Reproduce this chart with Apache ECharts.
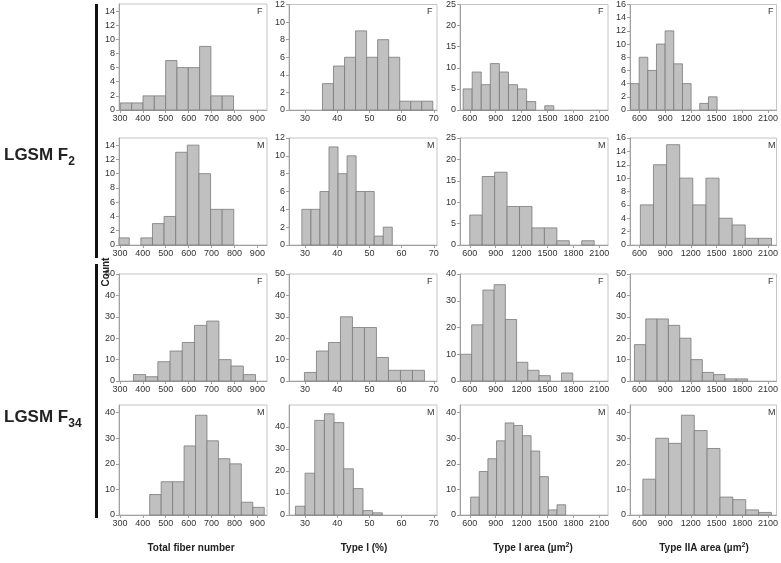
<!DOCTYPE html>
<html><head><meta charset="utf-8">
<script src="https://cdn.jsdelivr.net/npm/echarts@6/dist/echarts.min.js"></script>
<style>html,body{margin:0;padding:0;background:#fff}#c{width:781px;height:563px}</style>
</head><body><div id="c"></div>
<script>
// ---- tick labels ----
const ticksFiber = [300,400,500,600,700,800,900];
const ticksType = [30,40,50,60,70];
const ticksArea = [600,900,1200,1500,1800,2100];
const xTitles = ['Total fiber number','Type I (%)','Type I area (\u00b5m2)','Type IIA area (\u00b5m2)'];
const rowSex = ['F','M','F','M'];

// ---- histogram data: bin start, bin width, counts ----
// LGSM F2, females
const f2F_fiberStart = 302,  f2F_fiberWidth = 49.4, f2F_fiberCounts = [1,1,2,2,7,6,6,9,2,2];
const f2F_typeStart = 35.4,  f2F_typeWidth = 3.43,  f2F_typeCounts = [3,5,6,9,6,8,6,1,1,1];
const f2F_areaStart = 523,   f2F_areaWidth = 105,   f2F_areaCounts = [5,9,6,11,9,6,5,2,0,1];
const f2F_iiaStart = 496,    f2F_iiaWidth = 101,    f2F_iiaCounts = [4,8,6,10,12,7,4,0,1,2];
// LGSM F2, males
const f2M_fiberStart = 290,  f2M_fiberWidth = 50.7, f2M_fiberCounts = [1,0,1,3,4,13,14,10,5,5];
const f2M_typeStart = 29.0,  f2M_typeWidth = 2.81,  f2M_typeCounts = [4,4,6,11,8,10,6,6,1,2];
const f2M_areaStart = 600,   f2M_areaWidth = 144,   f2M_areaCounts = [7,16,17,9,9,4,4,1,0,1];
const f2M_iiaStart = 611,    f2M_iiaWidth = 153,    f2M_iiaCounts = [6,12,15,10,6,10,4,3,1,1];
// LGSM F34, females
const f34F_fiberStart = 359, f34F_fiberWidth = 53.3, f34F_fiberCounts = [3,2,9,14,18,26,28,10,7,3];
const f34F_typeStart = 29.8, f34F_typeWidth = 3.73,  f34F_typeCounts = [4,14,18,30,25,25,11,5,5,5];
const f34F_areaStart = 492,  f34F_areaWidth = 130,   f34F_areaCounts = [10,21,34,36,23,7,4,2,0,3];
const f34F_iiaStart = 542,   f34F_iiaWidth = 132,   f34F_iiaCounts = [17,29,29,26,20,10,4,3,1,1];
// LGSM F34, males
const f34M_fiberStart = 430, f34M_fiberWidth = 50,   f34M_fiberCounts = [8,13,13,27,39,29,22,20,5,3];
const f34M_typeStart = 27.0, f34M_typeWidth = 3.0,   f34M_typeCounts = [4,19,43,46,42,21,12,2,1];
const f34M_areaStart = 610,  f34M_areaWidth = 100,   f34M_areaCounts = [7,17,22,29,36,35,31,25,15,2,4];
const f34M_iiaStart = 640,   f34M_iiaWidth = 150,   f34M_iiaCounts = [14,30,28,39,33,26,7,6,2,1];

// y-axis maxima and ticks per row/col
const yMax = [[15,12,25,16],[15,12,25,16],[50,50,40,50],[43,50,43,43]];
const yTicks = [
  [[0,2,4,6,8,10,12,14],[0,2,4,6,8,10,12],[0,5,10,15,20,25],[0,2,4,6,8,10,12,14,16]],
  [[0,2,4,6,8,10,12,14],[0,2,4,6,8,10,12],[0,5,10,15,20,25],[0,2,4,6,8,10,12,14,16]],
  [[0,10,20,30,40,50],[0,10,20,30,40,50],[0,10,20,30,40],[0,10,20,30,40,50]],
  [[0,10,20,30,40],[0,10,20,30,40],[0,10,20,30,40],[0,10,20,30,40]]
];
const xRange = [[296,942],[25,71],[487,2200],[490,2200]];
const xTicks = [ticksFiber, ticksType, ticksArea, ticksArea];

const panels = [
  [[f2F_fiberStart,f2F_fiberWidth,f2F_fiberCounts],[f2F_typeStart,f2F_typeWidth,f2F_typeCounts],[f2F_areaStart,f2F_areaWidth,f2F_areaCounts],[f2F_iiaStart,f2F_iiaWidth,f2F_iiaCounts]],
  [[f2M_fiberStart,f2M_fiberWidth,f2M_fiberCounts],[f2M_typeStart,f2M_typeWidth,f2M_typeCounts],[f2M_areaStart,f2M_areaWidth,f2M_areaCounts],[f2M_iiaStart,f2M_iiaWidth,f2M_iiaCounts]],
  [[f34F_fiberStart,f34F_fiberWidth,f34F_fiberCounts],[f34F_typeStart,f34F_typeWidth,f34F_typeCounts],[f34F_areaStart,f34F_areaWidth,f34F_areaCounts],[f34F_iiaStart,f34F_iiaWidth,f34F_iiaCounts]],
  [[f34M_fiberStart,f34M_fiberWidth,f34M_fiberCounts],[f34M_typeStart,f34M_typeWidth,f34M_typeCounts],[f34M_areaStart,f34M_areaWidth,f34M_areaCounts],[f34M_iiaStart,f34M_iiaWidth,f34M_iiaCounts]]
];

// ---- layout ----
const colLeft = [119, 289, 460, 630];
const colWidth = 148;
const rowTop = [4, 138, 274, 405];
const rowHeight = [106, 107, 107, 110];
const FONT = 'Liberation Sans, Arial, sans-serif';

const chart = echarts.init(document.getElementById('c'), null, {renderer: 'canvas'});

function renderItem(params, api) {
  const s = api.value(0), e = api.value(1), c = api.value(2);
  const p0 = api.coord([s, c]);
  const p1 = api.coord([e, 0]);
  const shape = echarts.graphic.clipRectByRect(
    {x: p0[0], y: p0[1], width: p1[0] - p0[0], height: p1[1] - p0[1]},
    {x: params.coordSys.x, y: params.coordSys.y, width: params.coordSys.width, height: params.coordSys.height}
  );
  if (!shape) return;
  return {type: 'rect', shape: shape, style: {fill: '#c0c0c0', stroke: '#7a7a7a', lineWidth: 0.8}};
}
const plain = v => String(v);

const grid = [], xAxis = [], yAxis = [], series = [], graphic = [];
for (let r = 0; r < 4; r++) {
  for (let c = 0; c < 4; c++) {
    const i = r * 4 + c;
    grid.push({left: colLeft[c], top: rowTop[r], width: colWidth, height: rowHeight[r],
      show: true, borderColor: '#c4c4c4', borderWidth: 1, backgroundColor: '#fff'});
    xAxis.push({type: 'value', gridIndex: i, min: xRange[c][0], max: xRange[c][1],
      axisLine: {show: true, onZero: false, lineStyle: {color: '#a0a0a0', width: 1}},
      axisTick: {show: true, length: 3, customValues: xTicks[c], lineStyle: {color: '#a0a0a0'}},
      axisLabel: {customValues: xTicks[c], formatter: plain, fontSize: 9, color: '#333', margin: 4, fontFamily: FONT},
      splitLine: {show: false}});
    yAxis.push({type: 'value', gridIndex: i, min: 0, max: yMax[r][c],
      axisLine: {show: true, lineStyle: {color: '#a0a0a0', width: 1}},
      axisTick: {show: true, length: 3, customValues: yTicks[r][c], lineStyle: {color: '#a0a0a0'}},
      axisLabel: {customValues: yTicks[r][c], formatter: plain, fontSize: 9, color: '#333', margin: 4, fontFamily: FONT},
      splitLine: {show: false}});
    const [st, w, counts] = panels[r][c];
    const data = [];
    counts.forEach((v, k) => { if (v > 0) data.push([st + k * w, st + (k + 1) * w, v]); });
    series.push({type: 'custom', xAxisIndex: i, yAxisIndex: i, renderItem: renderItem,
      encode: {x: [0, 1], y: 2}, data: data, silent: true, animation: false});
    graphic.push({type: 'text', left: colLeft[c] + colWidth - 10, top: rowTop[r] + 3,
      style: {text: rowSex[r], fontSize: 9, fill: '#333', font: '9px ' + FONT}});
  }
}
// group bars on the left
graphic.push({type: 'rect', shape: {x: 95, y: 4, width: 3, height: 254}, style: {fill: '#111'}});
graphic.push({type: 'rect', shape: {x: 95, y: 264, width: 3, height: 254}, style: {fill: '#111'}});
const richL = {a: {fontSize: 17, fontWeight: 'bold', fontFamily: FONT, fill: '#222'}, s: {fontSize: 12, fontWeight: 'bold', fontFamily: FONT, fill: '#222', padding: [12, 0, 0, 0]}};
graphic.push({type: 'text', left: 4, top: 147, style: {rich: richL, text: '{a|LGSM F}{s|2}'}});
graphic.push({type: 'text', left: 4, top: 409, style: {rich: richL, text: '{a|LGSM F}{s|34}'}});
graphic.push({type: 'text', x: 106, y: 272, rotation: Math.PI / 2, style: {text: 'Count', font: 'bold 10px ' + FONT, fill: '#222', align: 'center', verticalAlign: 'middle'}});
const titleCenters = [191, 364, 533, 704];
xTitles.forEach((t, c) => {
  const base = t.replace('2)', '');
  const hasSup = t.endsWith('2)');
  graphic.push({type: 'text', x: titleCenters[c], y: 548,
    style: {align: 'center', verticalAlign: 'middle',
      rich: {a: {fontSize: 10, fontWeight: 'bold', fontFamily: FONT, fill: '#222'}, s: {fontSize: 7, fontWeight: 'bold', fontFamily: FONT, fill: '#222', padding: [0, 0, 6, 0]}},
      text: hasSup ? '{a|' + base + '}{s|2}{a|)}' : '{a|' + t + '}'}});
});

chart.setOption({animation: false, grid, xAxis, yAxis, series, graphic});
</script></body></html>
